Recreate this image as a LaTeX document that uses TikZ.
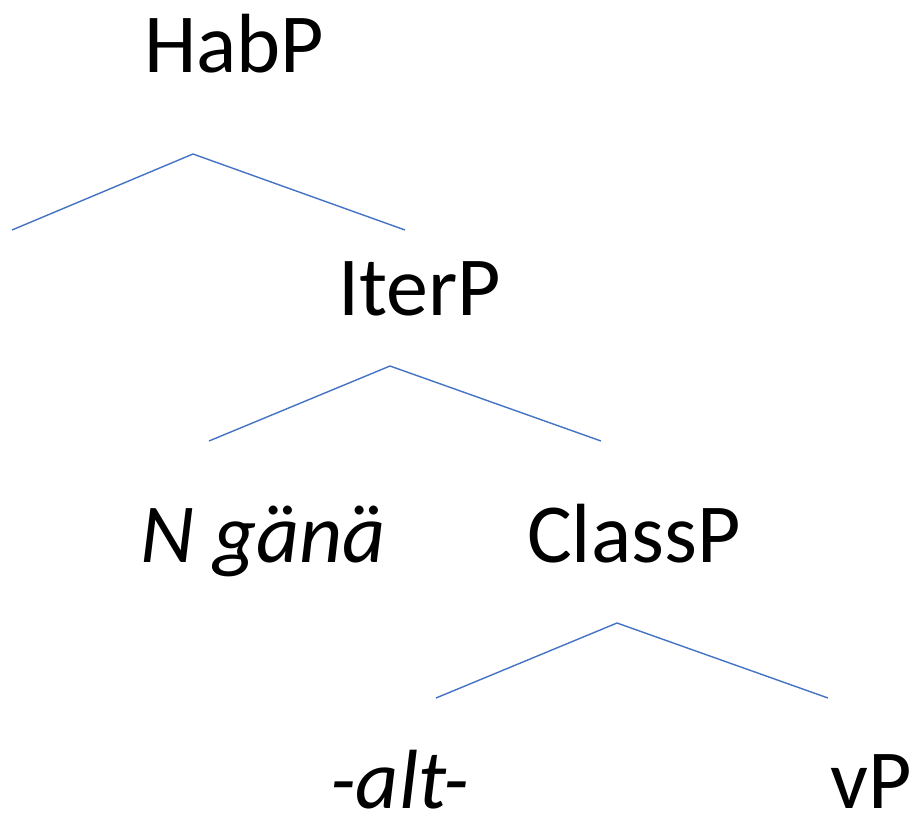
\documentclass[tikz,border=0pt]{standalone}
\usepackage{fontspec}
\setmainfont{Carlito}
\definecolor{branch}{HTML}{4472C4}
\begin{document}
\begin{tikzpicture}[x=1pt,y=-1pt,
  lbl/.style={anchor=base west,inner sep=0pt,font=\fontsize{84}{100}\selectfont},
  edge/.style={draw=branch,line width=1.4pt}]
\useasboundingbox (0,0) rectangle (919,812);
\node[lbl] (hab) at (144,72) {HabP};
\coordinate (a1) at (193,154);
\coordinate (l1) at (12,230);
\coordinate (r1) at (405,230);
\draw[edge] (l1) -- (a1) -- (r1);
\node[lbl] (iter) at (338,315) {IterP};
\coordinate (a2) at (390,366);
\coordinate (l2) at (209,441);
\coordinate (r2) at (601,441);
\draw[edge] (l2) -- (a2) -- (r2);
\node[lbl] (ngana) at (140,562) {\itshape N gänä};
\node[lbl] (class) at (527,562) {ClassP};
\coordinate (a3) at (617,623);
\coordinate (l3) at (436,698);
\coordinate (r3) at (828,698);
\draw[edge] (l3) -- (a3) -- (r3);
\node[lbl] (alt) at (330,808) {\itshape -alt-};
\node[lbl] (vp) at (830,808) {vP};
\end{tikzpicture}
\end{document}
